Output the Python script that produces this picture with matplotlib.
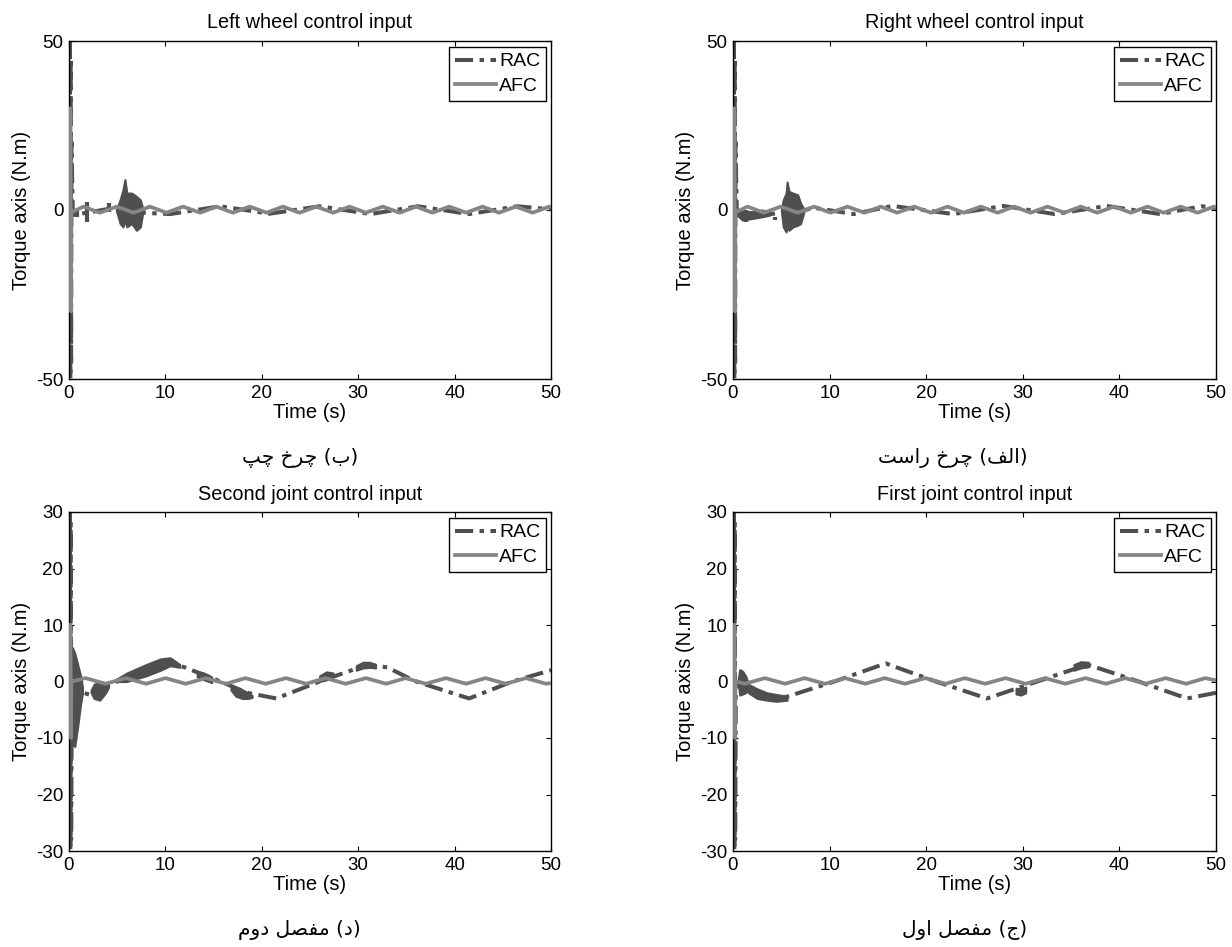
import matplotlib
matplotlib.use('Agg')
import matplotlib.pyplot as plt

plt.rcParams['font.family'] = ['Liberation Sans', 'DejaVu Sans']
plt.rcParams['axes.unicode_minus'] = False

# ---------------- data ----------------
titles = ['Left wheel control input', 'Right wheel control input',
          'Second joint control input', 'First joint control input']
captions = [['(ب)', 'چرخ', 'چپ'], ['(الف)', 'چرخ', 'راست'],
            ['(د)', 'مفصل', 'دوم'], ['(ج)', 'مفصل', 'اول']]
series_names = ['RAC', 'AFC']
x_ticks = [0, 10, 20, 30, 40, 50]
y_ticks_top = [-50, 0, 50]
y_ticks_bot = [-30, -20, -10, 0, 10, 20, 30]

# Left wheel
tl_rac_t = [0.1, 0.14, 0.18, 0.22, 0.26, 0.4, 1.0, 2.5, 4.0, 5.0, 7.6, 10.5, 15.7, 20.8, 26.0, 31.3, 36.2, 41.5, 46.5, 50]
tl_rac_y = [50, -50, 45, -45, 20, -1.5, -1.2, -0.5, 0.3, -0.5, -0.8, -1.2, 1.1, -1.1, 1.1, -1.2, 1.1, -1.2, 1.1, 0.2]
tl_burst_t = [4.9, 5.3, 5.6, 5.8, 6.0, 6.5, 7.0, 7.4, 7.7]
tl_burst_hi = [0, 3, 6, 9, 5, 5, 4, 3, 0]
tl_burst_lo = [0, -4, -5, -3, -5, -4, -6, -5, 0]
tl_spk_t = [0.8, 1.9, 4.2]
tl_spk_lo = [-2.0, -3.5, -0.5]
tl_spk_hi = [0.0, 2.4, 2.0]
tl_afc_t = [0.15, 0.2, 0.25, 0.4, 1.5, 3.2, 4.95, 6.7, 8.4, 10.1, 11.85, 13.6, 15.3, 17.0, 18.75, 20.5, 22.2,
            23.9, 25.65, 27.4, 29.1, 30.8, 32.55, 34.3, 36.0, 37.7, 39.45, 41.2, 42.9, 44.6, 46.35, 48.1, 49.8, 50]
tl_afc_y = [30, -30, 0, -0.5, 1.0, -0.8, 1.0, -0.8, 1.0, -0.8, 1.0, -0.8, 1.0, -0.8, 1.0, -0.8, 1.0,
            -0.8, 1.0, -0.8, 1.0, -0.8, 1.0, -0.8, 1.0, -0.8, 1.0, -0.8, 1.0, -0.8, 1.0, -0.8, 1.0, 0.9]

# Right wheel
tr_rac_t = [0.1, 0.14, 0.18, 0.22, 0.26, 0.4, 1.5, 3.0, 4.5, 7.5, 8.3, 12.5, 16.5, 22.8, 28.0, 33.3, 38.7, 44.2, 48.5, 50]
tr_rac_y = [50, -50, 45, -45, 20, -1.5, -1.0, -1.5, -1.0, 0.0, 0.7, -1.2, 1.2, -1.2, 1.2, -1.2, 1.2, -1.2, 1.1, 0.6]
tr_burst_t = [5.0, 5.2, 5.5, 5.6, 5.8, 6.2, 6.7, 7.0, 7.4]
tr_burst_hi = [0, 3, 5, 8.3, 5.5, 5, 4.5, 2, 0]
tr_burst_lo = [0, -5, -6.5, -5, -6, -5, -4.5, -4, 0]
tr_chat_t = [0.4, 1.0, 2.0, 3.0, 3.8]
tr_chat_hi = [0.0, -0.3, -0.5, 0.0, -0.5]
tr_chat_lo = [-1.5, -3.0, -2.5, -2.0, -1.5]
tr_spk_t = [1.3, 4.3]
tr_spk_lo = [-3.5, -3.0]
tr_spk_hi = [0.0, -2.0]
tr_afc_t = [0.15, 0.2, 0.25, 0.4, 1.5, 3.2, 4.95, 6.7, 8.4, 10.1, 11.85, 13.6, 15.3, 17.0, 18.75, 20.5, 22.2,
            23.9, 25.65, 27.4, 29.1, 30.8, 32.55, 34.3, 36.0, 37.7, 39.45, 41.2, 42.9, 44.6, 46.35, 48.1, 49.8, 50]
tr_afc_y = [30, -30, 0, -0.5, 1.0, -0.8, 1.0, -0.8, 1.0, -0.8, 1.0, -0.8, 1.0, -0.8, 1.0, -0.8, 1.0,
            -0.8, 1.0, -0.8, 1.0, -0.8, 1.0, -0.8, 1.0, -0.8, 1.0, -0.8, 1.0, -0.8, 1.0, -0.8, 1.0, 0.9]

# Second joint
bl_rac_t = [0.1, 0.14, 0.18, 0.22, 0.3, 1.5, 2.5, 3.5, 5.0, 10.3, 12.0, 15.0, 18.5, 21.5, 26.0, 31.0, 33.0, 36.0, 41.5, 46.0, 50]
bl_rac_y = [30, -30, 28, -28, 0, -2.0, -2.5, -1.0, 0.0, 3.5, 2.5, 0.5, -2.0, -3.0, 0.0, 3.0, 2.5, 0.0, -3.0, 0.0, 2.0]
bl_b1_t = [0.25, 0.35, 0.6, 0.9, 1.2, 1.4]
bl_b1_hi = [0, 6, 5, 3, 1, -1]
bl_b1_lo = [0, -11, -11.5, -8, -4, -2]
bl_b2_t = [2.3, 2.6, 3.2, 3.8, 4.1]
bl_b2_hi = [-1.5, -0.5, 0.0, -0.3, -0.5]
bl_b2_lo = [-2.0, -3.0, -3.3, -2.0, -1.0]
bl_b3_t = [4.5, 6.0, 8.0, 9.5, 10.5, 11.5]
bl_b3_hi = [0.0, 1.5, 3.0, 4.0, 4.2, 3.0]
bl_b3_lo = [0.0, 0.0, 1.0, 2.0, 2.8, 2.5]
bl_b4_t = [13.3, 14.0, 14.8]
bl_b4_hi = [1.8, 1.5, 0.8]
bl_b4_lo = [0.8, 0.3, -0.2]
bl_b5_t = [16.8, 17.3, 18.0, 18.6, 19.0]
bl_b5_hi = [-1.0, -1.0, -1.5, -2.0, -2.5]
bl_b5_lo = [-1.5, -2.6, -3.0, -3.0, -2.8]
bl_b6_t = [26.0, 26.7, 27.4]
bl_b6_hi = [1.0, 1.7, 1.5]
bl_b6_lo = [0.0, 0.3, 0.8]
bl_b7_t = [29.8, 30.5, 31.2, 31.8]
bl_b7_hi = [2.8, 3.4, 3.4, 3.0]
bl_b7_lo = [2.0, 2.4, 2.5, 2.4]
bl_afc_t = [0.15, 0.2, 0.25, 0.3, 1.7, 3.8, 5.9, 8.0, 10.0, 12.1, 14.2, 16.3, 18.3, 20.4, 22.5, 24.6,
            26.6, 28.7, 30.8, 32.9, 34.9, 37.0, 39.1, 41.2, 43.2, 45.3, 47.4, 49.5, 50]
bl_afc_y = [10, -10, 0, 0, 0.6, -0.4, 0.6, -0.4, 0.6, -0.4, 0.6, -0.4, 0.6, -0.4, 0.6, -0.4,
            0.6, -0.4, 0.6, -0.4, 0.6, -0.4, 0.6, -0.4, 0.6, -0.4, 0.6, -0.4, -0.3]

# First joint
br_rac_t = [0.1, 0.14, 0.18, 0.22, 0.3, 1.5, 3.0, 5.0, 10.5, 15.8, 21.0, 26.3, 31.5, 36.7, 42.0, 47.0, 50]
br_rac_y = [30, -30, 28, -28, 0, -1.0, -2.5, -3.0, 0.0, 3.2, 0.0, -3.0, 0.0, 3.0, 0.0, -3.0, -2.0]
br_b1_t = [0.5, 0.7, 1.0, 1.3, 1.6]
br_b1_hi = [0.0, 2.1, 1.8, 1.0, -0.5]
br_b1_lo = [0.0, -2.4, -2.2, -2.0, -1.5]
br_b2_t = [1.6, 2.5, 3.5, 4.5, 5.6]
br_b2_hi = [-0.5, -1.3, -2.0, -2.3, -2.6]
br_b2_lo = [-2.0, -3.0, -3.3, -3.5, -3.3]
br_b3_t = [29.3, 29.8, 30.3]
br_b3_hi = [-1.2, -1.3, -1.0]
br_b3_lo = [-2.2, -2.4, -2.0]
br_b4_t = [35.3, 36.0, 36.8]
br_b4_hi = [3.0, 3.5, 3.4]
br_b4_lo = [2.0, 2.4, 2.6]
br_afc_t = [0.15, 0.2, 0.25, 0.3, 1.2, 3.3, 5.4, 7.4, 9.5, 11.6, 13.7, 15.7, 17.8, 19.9, 22.0, 24.0,
            26.1, 28.2, 30.3, 32.3, 34.4, 36.5, 38.6, 40.6, 42.7, 44.8, 46.9, 48.9, 50]
br_afc_y = [10, -10, 0, 0, -0.4, 0.6, -0.4, 0.6, -0.4, 0.6, -0.4, 0.6, -0.4, 0.6, -0.4, 0.6,
            -0.4, 0.6, -0.4, 0.6, -0.4, 0.6, -0.4, 0.6, -0.4, 0.6, -0.4, 0.6, 0.2]

# ---------------- Persian shaping (presentation forms, visual order) ----------------
FORMS = {
    'ا': ('\uFE8D', '\uFE8E'),
    'ب': ('\uFE8F', '\uFE90', '\uFE91', '\uFE92'),
    'ت': ('\uFE95', '\uFE96', '\uFE97', '\uFE98'),
    'ج': ('\uFE9D', '\uFE9E', '\uFE9F', '\uFEA0'),
    'خ': ('\uFEA5', '\uFEA6', '\uFEA7', '\uFEA8'),
    'د': ('\uFEA9', '\uFEAA'),
    'ر': ('\uFEAD', '\uFEAE'),
    'س': ('\uFEB1', '\uFEB2', '\uFEB3', '\uFEB4'),
    'ص': ('\uFEB9', '\uFEBA', '\uFEBB', '\uFEBC'),
    'ف': ('\uFED1', '\uFED2', '\uFED3', '\uFED4'),
    'ل': ('\uFEDD', '\uFEDE', '\uFEDF', '\uFEE0'),
    'م': ('\uFEE1', '\uFEE2', '\uFEE3', '\uFEE4'),
    'و': ('\uFEED', '\uFEEE'),
    'پ': ('\uFB56', '\uFB57', '\uFB58', '\uFB59'),
    'چ': ('\uFB7A', '\uFB7B', '\uFB7C', '\uFB7D'),
}


def shape_word(w):
    out = []
    letters = [c for c in w if c in FORMS]
    for i, ch in enumerate(letters):
        f = FORMS[ch]
        jp = i > 0 and len(FORMS[letters[i - 1]]) == 4
        jn = i < len(letters) - 1 and len(f) == 4
        if jp and jn:
            g = f[3]
        elif jp:
            g = f[1]
        elif jn:
            g = f[2]
        else:
            g = f[0]
        out.append(g)
    s = ''.join(reversed(out))
    if w.startswith('('):
        s = '(' + s + ')'
    return s


def visual(words):
    return ' '.join(reversed([shape_word(w) for w in words]))


# ---------------- drawing ----------------
RAC_C = '#4f4f4f'
AFC_C = '#858585'
W, H = 1232, 947
fig = plt.figure(figsize=(W / 100, H / 100), dpi=100)

rects = [(69, 41, 482, 338), (733, 41, 483, 338), (69, 512, 482, 339), (733, 512, 483, 339)]
panels = [
    dict(rac=(tl_rac_t, tl_rac_y), afc=(tl_afc_t, tl_afc_y),
         fills=[(tl_burst_t, tl_burst_lo, tl_burst_hi)],
         spikes=(tl_spk_t, tl_spk_lo, tl_spk_hi), ylim=(-50, 50), yt=y_ticks_top),
    dict(rac=(tr_rac_t, tr_rac_y), afc=(tr_afc_t, tr_afc_y),
         fills=[(tr_burst_t, tr_burst_lo, tr_burst_hi), (tr_chat_t, tr_chat_lo, tr_chat_hi)],
         spikes=(tr_spk_t, tr_spk_lo, tr_spk_hi), ylim=(-50, 50), yt=y_ticks_top),
    dict(rac=(bl_rac_t, bl_rac_y), afc=(bl_afc_t, bl_afc_y),
         fills=[(bl_b1_t, bl_b1_lo, bl_b1_hi), (bl_b2_t, bl_b2_lo, bl_b2_hi), (bl_b3_t, bl_b3_lo, bl_b3_hi),
                (bl_b4_t, bl_b4_lo, bl_b4_hi), (bl_b5_t, bl_b5_lo, bl_b5_hi), (bl_b6_t, bl_b6_lo, bl_b6_hi),
                (bl_b7_t, bl_b7_lo, bl_b7_hi)],
         spikes=None, ylim=(-30, 30), yt=y_ticks_bot),
    dict(rac=(br_rac_t, br_rac_y), afc=(br_afc_t, br_afc_y),
         fills=[(br_b1_t, br_b1_lo, br_b1_hi), (br_b2_t, br_b2_lo, br_b2_hi), (br_b3_t, br_b3_lo, br_b3_hi),
                (br_b4_t, br_b4_lo, br_b4_hi)],
         spikes=None, ylim=(-30, 30), yt=y_ticks_bot),
]
cap_pos = [(300, 458), (953, 458), (299, 930), (965, 930)]

for i, (rect, p) in enumerate(zip(rects, panels)):
    x0, y0, w, h = rect
    ax = fig.add_axes([x0 / W, 1 - (y0 + h) / H, w / W, h / H])
    ax.plot(p['rac'][0], p['rac'][1], color=RAC_C, lw=2.9, dashes=(4.5, 1.6, 1.1, 1.6),
            label=series_names[0], zorder=2)
    for ft, flo, fhi in p['fills']:
        ax.fill_between(ft, flo, fhi, color=RAC_C, lw=1.5, edgecolor=RAC_C, zorder=2)
    if p['spikes'] is not None:
        ax.vlines(p['spikes'][0], p['spikes'][1], p['spikes'][2], color=RAC_C, lw=3, zorder=2)
    ax.plot(p['afc'][0], p['afc'][1], color=AFC_C, lw=2.7, label=series_names[1], zorder=3,
            solid_joinstyle='round')
    ax.set_xlim(0, 50)
    ax.set_ylim(*p['ylim'])
    ax.set_xticks(x_ticks)
    ax.set_yticks(p['yt'])
    ax.tick_params(direction='in', top=True, right=True, length=3.5, width=0.8,
                   labelsize=13.5, pad=4)
    for s in ax.spines.values():
        s.set_linewidth(1.0)
    ax.set_title(titles[i], fontsize=14.3, pad=9)
    ax.set_xlabel('Time (s)', fontsize=14.5, labelpad=1)
    ax.set_ylabel('Torque axis (N.m)', fontsize=14.5, labelpad=4)
    leg = ax.legend(loc='upper right', bbox_to_anchor=(1 - 5 / w, 1 - 6 / h), borderaxespad=0,
                    fontsize=14, frameon=True, fancybox=False, framealpha=1, edgecolor='black',
                    handlelength=2.1, handletextpad=0.15, labelspacing=0.35, borderpad=0.3)
    leg.get_frame().set_linewidth(1.0)
    cx, cy = cap_pos[i]
    fig.text(cx / W, 1 - cy / H, visual(captions[i]), ha='center', va='center',
             fontsize=14.5, family=['DejaVu Sans'])

fig.savefig('out.png', dpi=100)
